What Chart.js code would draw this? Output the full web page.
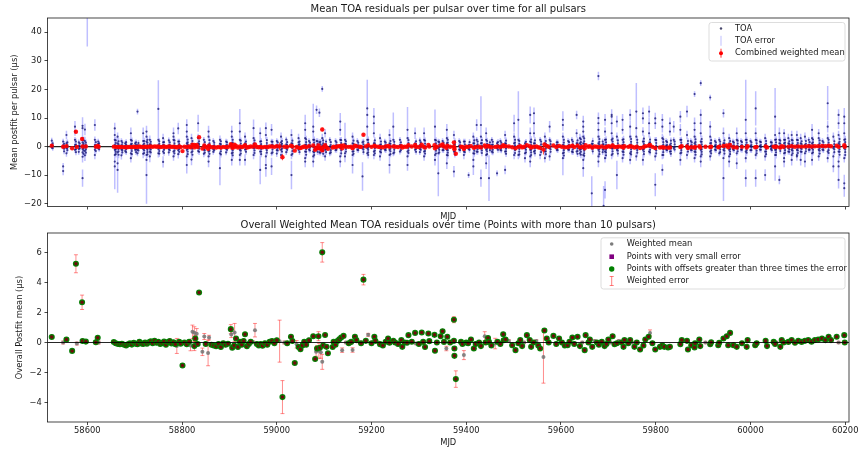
<!DOCTYPE html>
<html>
<head>
<meta charset="utf-8">
<script src="https://cdn.jsdelivr.net/npm/chart.js@4.4.0/dist/chart.umd.min.js"></script>
<style>
  body { margin: 0; background: #fff; }
  #wrap { position: relative; width: 860px; height: 450px; }
  canvas { position: absolute; left: 0; }
  #topChart { top: 0; }
  #bottomChart { top: 218px; }
</style>
</head>
<body>
<div id="wrap">
  <canvas id="topChart" width="860" height="224"></canvas>
  <canvas id="bottomChart" width="860" height="232"></canvas>
</div>
<script>
// axis ticks and limits
const xTicks = [58600, 58800, 59000, 59200, 59400, 59600, 59800, 60000, 60200];
const topYTicks = [-20, -10, 0, 10, 20, 30, 40];
const bottomYTicks = [-4, -2, 0, 2, 4, 6];
const xRange = [58516, 60208];
const topYRange = [-20.9, 45];
const bottomYRange = [-5.3, 7.3];

// TOA residuals per epoch: [MJD, residuals (us), errors (us)]
const toaEpochs = [
  [58525, [2.1, 0.6, -0.3, 0.4], [1, 0.8, 0.6, 0.5]],
  [58549, [1.8, -0.2, -6.9, -8.5, 0.5], [1, 0.8, 1.2, 1.5, 0.6]],
  [58556, [4.1, 1.2, -0.5, -2.3, 0.3], [1.5, 1, 0.8, 1.2, 0.6]],
  [58574, [7.0, 5.3, 2.4, 0.6, -1.1], [2, 1.5, 1, 0.8, 1]],
  [58582, [1.5, 0.3, -0.8, -1.8], [1, 0.7, 0.8, 1]],
  [58590, [7.3, 6.5, 3.0, 1.5, 0.4, -0.8, -2.0, -3.5, -11.0], [3, 2, 1.5, 1, 0.8, 1, 1.5, 2, 3]],
  [58595, [6.0, 2.0, 0.2, -1.5, -3.0], [2, 1.5, 1, 1.2, 2]],
  [58600, [50], [15]],
  [58616, [7.6, 2.4, 0.6, -1.1, -2.9], [2, 1.2, 0.8, 1, 1.5]],
  [58623, [1.8, 0.0, -0.5, 1.0], [1, 0.8, 0.8, 1]],
  [58658, [6.4, 4.1, 2.4, 0.6, -1.1, -2.9, -5.2, -6.9], [2, 1.5, 1, 0.8, 1, 1.5, 2, 8]],
  [58664, [3.5, 1.2, -0.4, -2.0, -8.1, -5.8], [1.5, 1, 0.8, 1, 8, 2]],
  [58672, [2.0, 0.5, -1.0, -3.0], [1, 0.8, 1, 1.5]],
  [58680, [1.2, -0.5, 0.3, -1.5], [1, 0.8, 0.6, 1]],
  [58692, [4.7, 2.4, -0.5, -2.3, -4.0, 0.8], [2, 1, 0.8, 1, 1.5, 0.6]],
  [58701, [1.2, -0.5, 0.4, -1.1], [1, 0.8, 0.6, 1]],
  [58706, [12.3, -1.1, -2.3, 0.5], [1, 1, 1, 0.6]],
  [58718, [4.7, 2.0, 0.6, -0.8, -2.5], [2, 1, 0.8, 1, 1.5]],
  [58725, [5.3, 3.5, 1.8, -0.5, -2.9, -4.6, -9.9], [2, 1.5, 1, 0.8, 1.5, 2, 10]],
  [58732, [2.4, 0.8, -0.6, -1.7, -3.4], [1.5, 1, 0.8, 1, 2]],
  [58750, [13.2, 2.4, -2.3, 0.5, -0.8], [10, 1, 1.5, 0.6, 0.8]],
  [58760, [3.0, 0.6, -1.7, -5.3, 1.5], [1.5, 0.8, 1, 2, 1]],
  [58772, [2.2, 0.4, -0.9, -2.0], [1, 0.7, 0.8, 1.2]],
  [58782, [4.7, 3.5, 2.4, 0.0, -1.7, -3.4], [2, 1.5, 1, 0.8, 1, 1.5]],
  [58792, [6.4, 1.8, 0.3, -1.2, -2.6], [2, 1, 0.8, 1, 1.5]],
  [58810, [7.6, 5.3, 3.5, 1.2, -1.1, -3.4, -6.4], [2, 2, 1.5, 1, 1, 1.5, 3]],
  [58820, [3.0, 1.0, -0.5, -2.0, -4.5], [1.5, 1, 0.8, 1, 2]],
  [58834, [8.2, 3.0, 1.2, -0.3, -1.5], [3, 1.5, 1, 0.8, 1]],
  [58846, [2.4, 0.5, -1.0, -2.5], [1, 0.8, 0.8, 1.2]],
  [58856, [5.3, 3.5, 0.6, -1.7, -3.4, -5.2], [2, 1.5, 0.8, 1, 1.5, 2]],
  [58866, [2.0, 0.2, -0.9, -1.8], [1, 0.7, 0.8, 1]],
  [58880, [2.4, 0.0, -2.3, -7.5, 1.0], [1.5, 0.8, 1, 6, 0.8]],
  [58893, [1.8, 0.4, -0.7, -2.0], [1, 0.7, 0.8, 1]],
  [58905, [5.3, 3.5, 1.2, -0.5, -2.3, -4.6], [2, 1.5, 1, 0.8, 1, 2]],
  [58922, [8.2, 5.3, 2.4, -1.1, -2.9, -4.6], [5, 2, 1, 1, 1.5, 2]],
  [58933, [3.5, 0.6, -4.6, 1.2, -1.0], [1.5, 0.8, 2, 0.8, 0.8]],
  [58951, [6.5, 3.0, -0.5, -2.9, 1.0], [3, 1.5, 0.8, 1.5, 0.8]],
  [58965, [4.7, 1.8, -1.7, -8.1, 0.3], [2, 1, 1, 5, 0.6]],
  [58977, [6.5, 4.1, -0.5, -3.4, -6.4, -7.5], [2, 1.5, 0.8, 1.5, 2, 3]],
  [58989, [5.9, 1.8, -2.3, -6.9, 0.5], [2, 1, 1, 3, 0.6]],
  [59000, [2.0, 0.3, -1.2, -2.4], [1, 0.7, 0.8, 1.2]],
  [59009, [3.5, 0.6, -1.1, -2.9, 1.5], [1.5, 0.8, 1, 1.5, 1]],
  [59020, [2.5, 0.8, -0.6, -1.9], [1, 0.8, 0.7, 1]],
  [59031, [4.1, 1.2, -2.9, -9.9, 0.2], [2, 1, 1.5, 5, 0.6]],
  [59046, [3.0, 0.6, -1.1, 1.5], [1.5, 0.8, 1, 1]],
  [59060, [8.2, 5.9, 3.0, 0.6, -1.7, -4.0, -5.2], [3, 2, 1.5, 0.8, 1, 2, 2]],
  [59068, [2.0, 0.4, -1.0], [1, 0.7, 0.9]],
  [59077, [7.0, 5.3, 2.4, 0.0, -1.7, -3.4, -5.2], [8, 2, 1.5, 0.8, 1, 1.5, 2]],
  [59084, [12.9, 2.0, -0.8], [1.5, 1, 0.8]],
  [59090, [11.9, 1.5, -0.5, -2.0], [1.5, 1, 0.8, 1]],
  [59096, [20.2, 3.0, 0.5, -1.5], [1, 1.5, 0.8, 1]],
  [59102, [4.7, 0.6, -1.1, -3.4], [1.5, 0.8, 1, 1.5]],
  [59112, [2.4, 0.0, -2.3], [1, 0.8, 1]],
  [59124, [2.0, 0.3, -1.2], [1, 0.7, 0.9]],
  [59134, [8.8, 5.9, 2.4, -0.5, -3.4, -5.2], [3, 2, 1, 0.8, 1.5, 2]],
  [59144, [2.4, 0.0, -2.3, -3.4, 1.0], [6, 1, 1, 2, 0.8]],
  [59160, [3.5, 1.2, -1.7, -2.9, -6.4], [1.5, 1, 1, 1.5, 3]],
  [59170, [2.0, 0.2, -1.1], [1, 0.7, 0.9]],
  [59181, [-10.4, 1.5, -0.6], [5, 1, 0.8]],
  [59191, [13.4, 11.1, 7.0, 2.4, -0.5, -2.3], [10, 3, 2, 1, 0.8, 1]],
  [59205, [10.5, 8.2, 4.7, 1.2, -1.7, -2.9], [3, 2, 1.5, 1, 1, 1.5]],
  [59218, [3.0, 0.6, -1.7, -3.4], [1.5, 0.8, 1, 1.5]],
  [59228, [1.8, 0.2, -1.0], [1, 0.7, 0.9]],
  [59238, [4.1, 1.2, -1.1, -2.9, -6.4], [2, 1, 1, 1.5, 3]],
  [59246, [7.0, 2.4, 0.0, -2.3], [5, 1, 0.8, 1]],
  [59260, [2.4, 0.6, -1.7], [1, 0.8, 1]],
  [59276, [5.9, 3.0, 0.0, -1.7, -3.4, -6.4], [8, 1.5, 0.8, 1, 1.5, 2]],
  [59292, [4.7, 1.2, -1.1, 0.3], [2, 1, 1, 0.6]],
  [59302, [2.2, 0.5, -0.8, -1.9], [1, 0.7, 0.8, 1]],
  [59311, [4.7, 2.4, 0.0, -1.7, -3.4], [2, 1, 0.8, 1, 1.5]],
  [59334, [7.0, 2.4, 0.0, -2.9, -4.6], [6, 1, 0.8, 1.5, 2]],
  [59341, [1.8, -0.5, -2.3, -9.3], [1, 0.8, 1, 8]],
  [59350, [2.0, 0.5, -1.2], [1, 0.7, 0.9]],
  [59359, [5.9, 3.0, 1.2, -1.1, -2.9, -5.8], [2, 1.5, 1, 1, 1.5, 2]],
  [59374, [4.1, 0.6, -1.7, -8.7], [1.5, 0.8, 1, 2]],
  [59385, [2.0, 0.3, -1.0], [1, 0.7, 0.9]],
  [59395, [1.8, -0.5, -1.7, -2.9], [1, 0.8, 1, 1.5]],
  [59405, [-9.9, 0.5, -0.8], [1, 0.7, 0.8]],
  [59415, [3.5, 1.2, -2.3, -4.6, -6.9], [1.5, 1, 1, 2, 3]],
  [59422, [7.6, 2.4, -1.7, 0.3], [2, 1, 1, 0.6]],
  [59431, [7.6, 3.5, -0.5, -11.0, 1.2], [10, 1.5, 0.8, 3, 1]],
  [59442, [4.7, 2.4, -1.1, -2.9, -5.8], [2, 1, 1, 1.5, 2]],
  [59448, [-11.0, 0.4], [8, 0.7]],
  [59454, [2.4, 0.6, -1.7], [1, 0.8, 1]],
  [59465, [-9.3, 1.2, -0.5], [1, 1, 0.8]],
  [59472, [2.0, 0.3, -1.1], [1, 0.7, 0.9]],
  [59482, [4.1, 1.2, -1.7, -8.1], [1.5, 1, 1, 1.5]],
  [59501, [8.2, 3.5, 1.2, -0.5, -2.9], [3, 1.5, 1, 0.8, 1.5]],
  [59510, [9.4, 2.4, 0.0, -2.9], [10, 1, 0.8, 1.5]],
  [59524, [1.2, -0.5, -2.3, -4.0], [1, 0.8, 1, 1.5]],
  [59535, [11.1, 4.7, 1.8, -1.1, -3.4, -5.2], [3, 2, 1, 1, 1.5, 2]],
  [59543, [11.7, 8.2, 4.7, 1.2, -1.7], [2, 2, 1.5, 1, 1]],
  [59556, [2.4, 0.0, -2.9], [1, 0.8, 1.5]],
  [59566, [3.5, 1.2, -1.7, -4.0], [1.5, 1, 1, 1.5]],
  [59576, [7.0, 2.4, -0.5, -3.4], [2, 1, 0.8, 1.5]],
  [59591, [0.6, -1.1, 1.5], [1, 0.8, 1]],
  [59604, [9.4, 7.6, 3.5, 0.6, -2.3, -4.0], [3, 2, 1.5, 0.8, 1, 6]],
  [59615, [2.0, 0.3, -1.0], [1, 0.7, 0.9]],
  [59623, [2.4, 0.0, -1.7], [1, 0.8, 1]],
  [59633, [11.1, 4.7, 1.2, -1.7], [1.5, 1.5, 1, 1]],
  [59640, [3.0, 1.2, -0.5, -1.1, -2.3], [1.5, 1, 0.8, 1, 1]],
  [59647, [8.8, 7.0, 5.3, 3.5, 1.2, -0.5, -2.9, -4.6, -7.5], [2, 2, 1.5, 1.5, 1, 0.8, 1.5, 2, 3]],
  [59665, [-16.3, 1.0, -0.5], [6, 1, 0.8]],
  [59679, [24.7, 10.0, 8.2, 5.9, 3.5, 1.2, -1.1, -3.4, -5.2], [1.5, 2, 2, 1.5, 1.5, 1, 1, 1.5, 2]],
  [59690, [-20.7, 0.8, -1.0], [7, 1, 0.8]],
  [59693, [9.4, 5.3, 2.4, -1.7, -4.0, -15.1], [2, 1.5, 1, 1, 1.5, 3]],
  [59707, [10.5, 11.1, 8.2, 4.7, 2.4, -0.5, -2.9], [2, 2, 2, 1.5, 1, 0.8, 1.5]],
  [59718, [8.8, 3.5, -1.1, -9.9], [2, 1.5, 1, 5]],
  [59730, [9.4, 5.9, 2.4, 0.6, -1.7, -4.0], [2, 1.5, 1, 0.8, 1, 1.5]],
  [59746, [11.1, 7.0, 3.5, 0.6, -2.3, -4.6], [2, 2, 1.5, 0.8, 1, 1.5]],
  [59759, [12.3, 6.5, 3.5, -0.5, -3.4], [10, 2, 1.5, 0.8, 1.5]],
  [59773, [11.7, 9.9, 5.3, 1.8, -1.1, -4.6], [2, 2, 1.5, 1, 1, 2]],
  [59786, [12.3, 8.2, 4.7, 1.2, -1.7], [2, 2, 1.5, 1, 1]],
  [59799, [9.9, 8.2, 2.4, -0.5, -3.4, -13.3], [2, 2, 1, 0.8, 1.5, 4]],
  [59814, [9.4, 7.0, 3.0, 0.0, -2.9, -8.1], [2, 2, 1.5, 0.8, 1.5, 2]],
  [59822, [2.0, 0.4, -1.0], [1, 0.7, 0.9]],
  [59830, [8.2, 5.3, 0.6, -1.7], [2, 1.5, 0.8, 1]],
  [59838, [7.0, 2.4, -0.5], [2, 1, 0.8]],
  [59852, [10.5, 5.9, 2.4, 0.0, -2.3, -4.6], [2, 2, 1, 0.8, 1, 2]],
  [59866, [12.3, 4.1, 0.6, -2.9], [2, 1.5, 0.8, 1.5]],
  [59874, [2.0, 0.3, -1.1], [1, 0.7, 0.9]],
  [59882, [18.4, 8.2, 5.9, 3.5, 1.2, -1.7, -4.0], [1, 2, 1.5, 1.5, 1, 1, 1.5]],
  [59895, [22.2, 11.1, 8.2, 4.7, 1.8, -1.1, -3.4, -5.2], [1, 2, 2, 1.5, 1, 1, 1.5, 2]],
  [59915, [17.2, 7.0, 3.5, 1.2, -1.7, -3.4], [1, 2, 1.5, 1, 1, 1.5]],
  [59925, [2.0, 0.4, -1.0], [1, 0.7, 0.9]],
  [59934, [2.4, 0.0, -2.3], [1, 0.8, 1]],
  [59943, [11.7, 4.7, 1.2, -1.1, -4.0, -11.0], [1.5, 2, 1, 1, 1.5, 8]],
  [59955, [3.0, 1.2, -1.1, -3.4, -5.2], [1.5, 1, 1, 1.5, 2]],
  [59963, [1.8, 0.2, -0.9], [1, 0.7, 0.9]],
  [59971, [4.7, 2.4, 0.0, -2.3, -5.8], [2, 1, 0.8, 1, 2]],
  [59980, [2.0, 0.3, -1.0], [1, 0.7, 0.9]],
  [59990, [9.4, 4.7, 2.4, 0.6, -1.7, -4.0, -11.0], [14, 2, 1, 0.8, 1, 1.5, 3]],
  [60000, [2.0, 0.3, -1.2], [1, 0.7, 0.9]],
  [60011, [13.4, 4.7, 2.4, -0.5, -2.9, -11.0], [6, 2, 1, 0.8, 1.5, 3]],
  [60020, [1.8, 0.3, -1.0], [1, 0.7, 0.9]],
  [60031, [3.0, 0.6, -1.7, -3.4, -9.9], [1.5, 0.8, 1, 1.5, 2]],
  [60043, [1.6, 0.2, -0.8], [1, 0.7, 0.9]],
  [60052, [10.5, 4.1, 2.4, 0.6, -1.1, -2.9, -6.9], [10, 1.5, 1, 0.8, 1, 1.5, 5]],
  [60061, [-11.6, 4.7, 2.4, 1.2, -0.5], [1.5, 2, 1, 1, 0.8]],
  [60071, [4.7, 2.4, 1.2, -0.5, -2.3, -4.0, -5.2], [1.5, 1, 1, 0.8, 1, 1.5, 2]],
  [60080, [3.0, 1.2, -0.5, -1.7], [1.5, 1, 0.8, 1]],
  [60087, [4.1, 2.4, 0.6, -1.1, -2.9, -4.6], [1.5, 1, 0.8, 1, 1.5, 2]],
  [60098, [4.1, 2.4, 0.6, -1.1, -2.9, -3.4], [1.5, 1, 0.8, 1, 1.5, 1.5]],
  [60106, [3.0, 1.2, -0.5, -1.7, -4.6], [1.5, 1, 0.8, 1, 2]],
  [60115, [3.5, 0.6, -2.3, -5.2], [1.5, 0.8, 1, 2]],
  [60123, [2.4, 0.6, -1.1], [1, 0.8, 1]],
  [60130, [5.9, 3.0, 1.2, -0.5, -2.3, -4.6], [2, 1.5, 1, 0.8, 1, 2]],
  [60144, [4.7, 3.0, 0.6, -1.1, -3.4], [1.5, 1.5, 0.8, 1, 1.5]],
  [60152, [2.0, 0.4, -1.0], [1, 0.7, 0.9]],
  [60163, [15.2, 7.0, 3.0, 0.6, -1.7, -4.0], [6, 2, 1.5, 0.8, 1, 1.5]],
  [60175, [3.5, -0.5, -3.4, -6.9], [1.5, 0.8, 1.5, 2]],
  [60186, [11.1, 8.2, 4.1, 1.2, -1.7, -5.2, -6.9, -11.6], [2, 2, 1.5, 1, 1, 2, 2, 3]],
  [60198, [10.5, 8.2, 4.7, 2.4, -0.5, -4.0, -12.8, -14.5], [3, 2, 1.5, 1, 0.8, 1.5, 3, 3]]
];

// densely packed TOAs close to zero next to each epoch: [MJD, residuals (us), common error (us)]
const toaCore = [
  [58527, [1.2, 0.4, -0.5], 0.9], [58551, [1.0, 0.2, -0.7, -1.6], 1.0], [58558, [1.5, 0.5, -0.4, -1.2], 1.0],
  [58576, [1.8, 0.7, -0.2, -0.9, -1.9], 1.1], [58584, [1.1, 0.2, -0.6], 0.9], [58592, [2.3, 1.2, 0.6, -0.1, -0.5, -1.3, -2.5], 1.2],
  [58597, [1.4, 0.6, -0.3, -1.0, -2.1], 1.1], [58618, [1.6, 0.5, -0.4, -1.5], 1.0], [58625, [1.2, 0.3, -0.9], 0.9],
  [58660, [2.2, 1.3, 0.4, -0.3, -1.0, -1.8, -2.6], 1.2], [58666, [1.9, 0.8, 0.0, -0.8, -1.6, -2.8], 1.2], [58674, [1.4, 0.5, -0.3, -1.2, -2.0], 1.0],
  [58682, [1.6, 0.7, -0.1, -0.9, -1.9], 1.0], [58694, [2.1, 1.0, 0.2, -0.7, -1.5, -2.6], 1.1], [58703, [1.5, 0.6, -0.2, -1.0, -1.9], 1.0],
  [58708, [1.3, 0.4, -0.4, -1.3], 1.0], [58720, [2.0, 1.1, 0.3, -0.5, -1.3, -2.2], 1.1], [58727, [2.4, 1.4, 0.6, -0.2, -1.1, -1.9, -2.7], 1.2],
  [58734, [1.7, 0.8, -0.1, -1.0, -2.0], 1.0], [58752, [1.9, 1.0, 0.2, -0.6, -1.5, -2.4], 1.1], [58762, [1.6, 0.5, -0.3, -1.1, -2.2], 1.0],
  [58774, [1.5, 0.6, -0.2, -1.2], 1.0], [58784, [2.2, 1.2, 0.4, -0.5, -1.4, -2.3], 1.1], [58794, [1.8, 0.9, 0.0, -0.8, -1.8], 1.0],
  [58812, [2.5, 1.5, 0.7, -0.1, -0.8, -1.7, -2.6], 1.2], [58822, [2.0, 1.0, 0.2, -0.7, -1.6, -2.8], 1.1], [58836, [1.9, 0.9, 0.1, -0.7, -1.8], 1.1],
  [58848, [1.6, 0.6, -0.3, -1.2, -2.1], 1.0], [58858, [2.3, 1.2, 0.3, -0.6, -1.4, -2.5], 1.1], [58868, [1.4, 0.5, -0.3, -1.2], 1.0],
  [58882, [1.9, 0.9, 0.1, -0.7, -1.6, -2.7], 1.1], [58895, [1.5, 0.6, -0.2, -1.1], 1.0], [58907, [2.4, 1.4, 0.5, -0.3, -1.2, -2.1, -3.0], 1.2],
  [58924, [2.1, 1.1, 0.3, -0.5, -1.4, -2.4], 1.1], [58935, [1.8, 0.8, 0.0, -0.9, -1.8], 1.0], [58953, [2.2, 1.2, 0.4, -0.4, -1.3, -2.2], 1.1],
  [58967, [1.9, 0.9, 0.1, -0.8, -1.7, -2.6], 1.1], [58979, [2.3, 1.3, 0.5, -0.3, -1.2, -2.1], 1.1], [58991, [1.7, 0.7, -0.1, -1.0, -2.0], 1.0],
  [59002, [1.5, 0.5, -0.4, -1.3], 1.0], [59011, [2.0, 1.0, 0.2, -0.7, -1.7], 1.1], [59022, [1.6, 0.6, -0.2, -1.1], 1.0],
  [59033, [2.1, 1.1, 0.2, -0.6, -1.5, -2.5], 1.1], [59048, [1.8, 0.8, 0.0, -0.9, -1.9], 1.0], [59062, [2.6, 1.6, 0.7, -0.1, -0.9, -1.8, -2.8], 1.2],
  [59070, [1.4, 0.5, -0.4, -1.3], 1.0], [59079, [2.4, 1.4, 0.6, -0.2, -1.1, -2.0, -2.9], 1.2], [59086, [1.9, 0.9, 0.0, -0.9, -1.8], 1.1],
  [59092, [1.7, 0.8, -0.1, -1.0, -2.1], 1.0], [59098, [2.2, 1.2, 0.3, -0.6, -1.5, -2.5], 1.1], [59104, [1.8, 0.8, 0.0, -0.9, -1.9], 1.0],
  [59114, [1.6, 0.6, -0.3, -1.2, -2.0], 1.0], [59126, [1.5, 0.6, -0.3, -1.1], 1.0], [59136, [2.3, 1.3, 0.4, -0.4, -1.3, -2.3], 1.1],
  [59146, [1.9, 0.9, 0.1, -0.8, -1.7], 1.0], [59162, [2.1, 1.0, 0.2, -0.6, -1.6, -2.5], 1.1], [59172, [1.4, 0.5, -0.4, -1.2], 1.0],
  [59183, [1.8, 0.8, -0.1, -1.0, -1.9], 1.0], [59193, [2.4, 1.4, 0.5, -0.3, -1.1, -2.0, -2.9], 1.2], [59207, [2.2, 1.2, 0.3, -0.5, -1.4, -2.3], 1.1],
  [59220, [1.8, 0.8, -0.1, -1.0, -2.0], 1.0], [59230, [1.4, 0.5, -0.4, -1.2], 1.0], [59240, [2.0, 1.0, 0.2, -0.7, -1.6, -2.6], 1.1],
  [59248, [1.7, 0.7, -0.2, -1.1, -2.0], 1.0], [59262, [1.5, 0.6, -0.3, -1.2], 1.0], [59278, [2.3, 1.3, 0.4, -0.4, -1.3, -2.2], 1.1],
  [59294, [1.9, 0.9, 0.0, -0.8, -1.8], 1.0], [59304, [1.5, 0.6, -0.3, -1.1], 1.0], [59313, [2.1, 1.1, 0.2, -0.6, -1.5, -2.4], 1.1],
  [59336, [2.2, 1.2, 0.3, -0.5, -1.4, -2.4], 1.1], [59343, [1.6, 0.7, -0.2, -1.1, -2.0], 1.0], [59352, [1.4, 0.5, -0.3, -1.2], 1.0],
  [59361, [2.4, 1.4, 0.5, -0.3, -1.2, -2.1, -3.0], 1.2], [59376, [1.9, 0.9, 0.0, -0.9, -1.8, -2.7], 1.1], [59387, [1.5, 0.5, -0.4, -1.2], 1.0],
  [59397, [1.8, 0.8, -0.1, -1.0, -1.9], 1.0], [59407, [1.6, 0.6, -0.3, -1.1], 1.0], [59417, [2.2, 1.2, 0.3, -0.5, -1.4, -2.4], 1.1],
  [59424, [1.8, 0.8, 0.0, -0.9, -1.8], 1.0], [59433, [2.3, 1.3, 0.4, -0.4, -1.3, -2.2], 1.1], [59444, [2.0, 1.0, 0.1, -0.7, -1.6, -2.6], 1.1],
  [59450, [1.5, 0.6, -0.3, -1.2], 1.0], [59456, [1.7, 0.7, -0.2, -1.1, -2.0], 1.0], [59467, [1.6, 0.6, -0.2, -1.1], 1.0],
  [59474, [1.4, 0.5, -0.4, -1.3], 1.0], [59484, [2.1, 1.1, 0.2, -0.7, -1.6, -2.5], 1.1], [59503, [2.4, 1.4, 0.5, -0.3, -1.2, -2.2], 1.2],
  [59512, [2.0, 1.0, 0.1, -0.8, -1.7, -2.7], 1.1], [59526, [1.7, 0.7, -0.2, -1.1, -2.0], 1.0], [59537, [2.5, 1.5, 0.6, -0.2, -1.1, -2.0, -2.9], 1.2],
  [59545, [2.2, 1.2, 0.3, -0.5, -1.4, -2.3], 1.1], [59558, [1.8, 0.8, -0.1, -1.0, -1.9], 1.0], [59568, [2.0, 1.0, 0.2, -0.7, -1.6, -2.6], 1.1],
  [59578, [1.9, 0.9, 0.0, -0.9, -1.8], 1.0], [59593, [1.5, 0.6, -0.3, -1.2], 1.0], [59606, [2.4, 1.4, 0.5, -0.3, -1.2, -2.1, -3.1], 1.2],
  [59617, [1.6, 0.6, -0.2, -1.1], 1.0], [59625, [1.8, 0.8, -0.1, -1.0, -1.9], 1.0], [59635, [2.2, 1.2, 0.3, -0.6, -1.5, -2.5], 1.1],
  [59642, [2.6, 1.6, 0.7, -0.1, -0.9, -1.8, -2.8], 1.2], [59649, [2.9, 1.9, 1.0, 0.2, -0.6, -1.4, -2.3, -3.2], 1.3], [59667, [2.0, 1.0, 0.1, -0.7, -1.6], 1.1],
  [59681, [2.7, 1.7, 0.8, 0.0, -0.8, -1.7, -2.6], 1.2], [59688, [1.8, 0.8, -0.1, -1.0, -1.9], 1.0], [59695, [2.5, 1.5, 0.6, -0.2, -1.1, -2.0, -3.0], 1.2],
  [59709, [2.8, 1.8, 0.9, 0.1, -0.7, -1.6, -2.5], 1.2], [59720, [2.2, 1.2, 0.3, -0.5, -1.4, -2.4], 1.1], [59732, [2.6, 1.6, 0.7, -0.1, -1.0, -1.9, -2.8], 1.2],
  [59748, [2.7, 1.7, 0.8, 0.0, -0.9, -1.8, -2.7], 1.2], [59761, [2.4, 1.4, 0.5, -0.3, -1.2, -2.1], 1.1], [59775, [2.8, 1.8, 0.9, 0.1, -0.8, -1.7, -2.6], 1.2],
  [59788, [2.5, 1.5, 0.6, -0.2, -1.1, -2.0], 1.1], [59801, [2.3, 1.3, 0.4, -0.4, -1.3, -2.3], 1.1], [59816, [2.6, 1.6, 0.7, -0.1, -1.0, -1.9, -2.9], 1.2],
  [59824, [1.6, 0.6, -0.3, -1.2], 1.0], [59832, [2.1, 1.1, 0.2, -0.6, -1.6, -2.5], 1.1], [59840, [1.8, 0.8, -0.1, -1.0], 1.0],
  [59854, [2.4, 1.4, 0.5, -0.3, -1.2, -2.1], 1.1], [59868, [2.0, 1.0, 0.1, -0.8, -1.7], 1.0], [59876, [1.5, 0.6, -0.3, -1.2], 1.0],
  [59884, [2.6, 1.6, 0.7, -0.1, -1.0, -1.9, -2.8], 1.2], [59897, [2.7, 1.7, 0.8, 0.0, -0.9, -1.8, -2.7], 1.2], [59917, [2.3, 1.3, 0.4, -0.4, -1.3, -2.3], 1.1],
  [59927, [1.5, 0.6, -0.3, -1.2], 1.0], [59936, [1.8, 0.8, -0.1, -1.0, -1.9], 1.0], [59945, [2.2, 1.2, 0.3, -0.5, -1.4, -2.4], 1.1],
  [59957, [2.0, 1.0, 0.1, -0.8, -1.7, -2.6], 1.1], [59965, [1.4, 0.5, -0.4, -1.2], 1.0], [59973, [2.1, 1.1, 0.2, -0.7, -1.6], 1.1],
  [59982, [1.6, 0.6, -0.3, -1.1], 1.0], [59992, [2.4, 1.4, 0.5, -0.3, -1.2, -2.1], 1.1], [60002, [1.5, 0.6, -0.3, -1.2], 1.0],
  [60013, [2.2, 1.2, 0.3, -0.5, -1.4, -2.3], 1.1], [60022, [1.6, 0.6, -0.2, -1.1], 1.0], [60033, [2.0, 1.0, 0.1, -0.8, -1.7, -2.6], 1.1],
  [60045, [1.4, 0.5, -0.4, -1.2], 1.0], [60054, [2.5, 1.5, 0.6, -0.2, -1.1, -2.0, -2.9], 1.2], [60063, [2.1, 1.1, 0.2, -0.6, -1.5], 1.1],
  [60073, [2.4, 1.4, 0.5, -0.3, -1.2, -2.1], 1.1], [60082, [1.9, 0.9, 0.0, -0.9, -1.8], 1.0], [60089, [2.2, 1.2, 0.3, -0.5, -1.4, -2.3], 1.1],
  [60100, [2.3, 1.3, 0.4, -0.4, -1.3, -2.2], 1.1], [60108, [1.9, 0.9, 0.0, -0.8, -1.8], 1.0], [60117, [2.0, 1.0, 0.1, -0.7, -1.6], 1.0],
  [60125, [1.6, 0.6, -0.3, -1.1], 1.0], [60132, [2.5, 1.5, 0.6, -0.2, -1.1, -2.0], 1.1], [60146, [2.2, 1.2, 0.3, -0.5, -1.4, -2.4], 1.1],
  [60154, [1.5, 0.6, -0.3, -1.2], 1.0], [60165, [2.4, 1.4, 0.5, -0.3, -1.2, -2.2], 1.1], [60177, [1.9, 0.9, 0.0, -0.9, -1.9], 1.0],
  [60188, [2.7, 1.7, 0.8, 0.0, -0.9, -1.8, -2.8], 1.2], [60200, [2.6, 1.6, 0.7, -0.1, -1.0, -1.9, -2.9], 1.2]
];

// overall weighted means: [MJD, mean (us), error (us), offset > 3 sigma]
const meanRows = [
  [58525, 0.37, 0.10, 1], [58549, 0.00, 0.10, 0], [58556, 0.20, 0.10, 1], [58568, -0.56, 0.10, 1],
  [58576, 5.25, 0.60, 1], [58578, -0.07, 0.10, 0], [58589, 2.68, 0.48, 1], [58590, 0.10, 0.08, 1],
  [58597, 0.06, 0.08, 1], [58618, 0.02, 0.08, 1], [58622, 0.31, 0.10, 1], [58624, 0.00, 0.10, 0],
  [58656, 0.03, 0.06, 1], [58660, -0.05, 0.06, 1], [58665, -0.10, 0.06, 1], [58669, -0.12, 0.06, 1],
  [58673, -0.08, 0.06, 1], [58678, -0.15, 0.06, 1], [58682, -0.20, 0.06, 1], [58686, -0.12, 0.06, 1],
  [58690, -0.06, 0.06, 1], [58694, -0.14, 0.06, 1], [58698, -0.02, 0.06, 1], [58702, -0.08, 0.06, 1],
  [58706, -0.12, 0.06, 1], [58710, 0.05, 0.06, 1], [58714, -0.06, 0.06, 1], [58718, -0.10, 0.06, 1],
  [58722, 0.00, 0.06, 1], [58726, -0.08, 0.06, 1], [58730, 0.02, 0.06, 1], [58734, 0.08, 0.06, 1],
  [58738, -0.05, 0.06, 1], [58742, 0.12, 0.06, 1], [58746, -0.02, 0.06, 1], [58750, 0.05, 0.06, 1],
  [58754, -0.10, 0.06, 1], [58758, -0.04, 0.06, 1], [58762, 0.06, 0.06, 1], [58766, -0.15, 0.06, 1],
  [58770, 0.03, 0.06, 1], [58774, 0.10, 0.06, 1], [58778, -0.06, 0.06, 1], [58782, 0.02, 0.06, 1],
  [58786, -0.12, 0.06, 1], [58789, -0.23, 0.50, 0], [58794, 0.05, 0.06, 1], [58797, -0.08, 0.06, 1],
  [58801, -1.53, 0.10, 1], [58805, 0.00, 0.08, 1], [58810, -0.12, 0.08, 1], [58815, 0.05, 0.08, 1],
  [58818, -0.20, 0.35, 0], [58822, 0.71, 0.45, 0], [58826, 0.65, 0.40, 0], [58826, -0.24, 0.30, 1],
  [58828, 0.27, 0.20, 1], [58831, 0.58, 0.35, 0], [58833, -0.10, 0.10, 1], [58836, 3.33, 0.10, 1],
  [58843, -0.62, 0.25, 0], [58847, 0.40, 0.20, 0], [58850, -0.10, 0.10, 1], [58855, -0.70, 0.85, 0],
  [58857, 0.33, 0.15, 0], [58862, -0.15, 0.08, 1], [58867, -0.20, 0.08, 1], [58872, -0.25, 0.08, 1],
  [58877, -0.10, 0.08, 1], [58882, -0.30, 0.08, 1], [58887, -0.05, 0.08, 1], [58892, -0.15, 0.08, 1],
  [58897, -0.08, 0.08, 1], [58903, 0.89, 0.30, 1], [58904, 0.53, 0.20, 0], [58906, -0.35, 0.10, 1],
  [58910, -0.20, 0.08, 1], [58911, 0.67, 0.60, 0], [58914, 0.27, 0.10, 1], [58918, -0.30, 0.08, 1],
  [58922, 0.05, 0.08, 1], [58926, -0.15, 0.08, 1], [58930, 0.10, 0.08, 1], [58933, 0.55, 0.10, 1],
  [58937, -0.25, 0.08, 1], [58941, -0.10, 0.08, 1], [58945, 0.05, 0.08, 1], [58950, 0.02, 0.08, 0],
  [58954, 0.82, 0.45, 0], [58958, -0.10, 0.08, 1], [58962, -0.20, 0.08, 1], [58966, -0.10, 0.08, 1],
  [58970, -0.22, 0.08, 1], [58975, -0.05, 0.08, 1], [58980, -0.15, 0.08, 1], [58985, 0.05, 0.08, 1],
  [58990, 0.10, 0.08, 1], [58995, -0.05, 0.08, 1], [59000, 0.15, 0.08, 1], [59006, 0.09, 1.40, 0],
  [59012, -3.64, 1.10, 1], [59016, 0.00, 0.10, 0], [59022, -0.05, 0.08, 1], [59030, 0.38, 0.10, 1],
  [59033, 0.10, 0.08, 1], [59038, -1.37, 0.10, 1], [59042, -0.12, 0.25, 0], [59046, -0.30, 0.10, 1],
  [59050, -0.45, 0.10, 1], [59054, -0.20, 0.10, 1], [59058, 0.05, 0.08, 1], [59062, -0.15, 0.08, 1],
  [59068, 0.15, 0.08, 1], [59077, 0.42, 0.10, 1], [59081, -1.10, 0.10, 1], [59083, -0.62, 0.30, 0],
  [59085, -0.40, 0.20, 1], [59088, 0.42, 0.30, 1], [59089, -0.55, 0.50, 0], [59091, -0.35, 0.10, 1],
  [59093, -0.65, 0.40, 0], [59096, 6.01, 0.65, 1], [59096, -1.29, 0.50, 0], [59098, -0.20, 0.10, 1],
  [59102, 0.50, 0.10, 1], [59105, -0.29, 0.10, 1], [59108, -0.72, 0.10, 1], [59118, -0.30, 0.08, 1],
  [59120, 0.04, 0.08, 1], [59124, -0.15, 0.08, 1], [59128, 0.10, 0.08, 1], [59132, 0.22, 0.08, 1],
  [59136, 0.33, 0.08, 1], [59138, -0.51, 0.15, 0], [59141, 0.44, 0.08, 1], [59146, 0.00, 0.08, 0],
  [59152, -0.05, 0.08, 1], [59157, 0.04, 0.08, 1], [59160, -0.50, 0.15, 0], [59165, 0.38, 0.08, 1],
  [59168, 0.16, 0.08, 1], [59175, 0.00, 0.08, 0], [59178, -0.05, 0.08, 1], [59183, 4.19, 0.35, 1],
  [59188, 0.11, 0.08, 1], [59193, 0.51, 0.10, 0], [59200, -0.05, 0.08, 1], [59206, 0.38, 0.08, 1],
  [59208, 0.11, 0.08, 1], [59214, 0.00, 0.08, 0], [59218, -0.11, 0.08, 1], [59224, -0.20, 0.08, 1],
  [59230, 0.05, 0.08, 1], [59235, 0.27, 0.08, 1], [59238, -0.02, 0.08, 1], [59246, 0.11, 0.08, 1],
  [59250, 0.00, 0.08, 1], [59256, -0.10, 0.08, 1], [59263, 0.16, 0.08, 1], [59265, -0.29, 0.08, 1],
  [59270, 0.00, 0.08, 1], [59275, -0.02, 0.08, 1], [59278, 0.49, 0.08, 1], [59285, 0.05, 0.08, 1],
  [59292, 0.64, 0.08, 1], [59294, -0.07, 0.08, 0], [59300, -0.10, 0.08, 1], [59306, 0.67, 0.08, 1],
  [59309, 0.04, 0.08, 1], [59313, -0.30, 0.08, 1], [59320, 0.60, 0.08, 1], [59322, 0.09, 0.08, 1],
  [59333, 0.51, 0.08, 1], [59334, -0.55, 0.08, 1], [59338, 0.00, 0.08, 1], [59346, 0.42, 0.08, 1],
  [59350, 0.75, 0.08, 1], [59353, 0.04, 0.08, 1], [59358, -0.40, 0.15, 0], [59360, 0.38, 0.08, 1],
  [59366, 0.00, 0.08, 1], [59374, 1.52, 0.20, 1], [59374, 0.11, 0.08, 1], [59375, -0.40, 0.08, 1],
  [59375, -0.89, 0.08, 1], [59378, -2.44, 0.55, 1], [59389, 0.04, 0.08, 1], [59392, -0.10, 0.08, 1],
  [59395, -0.84, 0.30, 0], [59400, 0.00, 0.08, 1], [59404, -0.05, 0.08, 1], [59410, 0.20, 0.08, 1],
  [59416, -0.40, 0.08, 1], [59420, -0.10, 0.08, 1], [59427, 0.00, 0.08, 1], [59431, -0.24, 0.08, 1],
  [59439, 0.42, 0.30, 0], [59441, 0.00, 0.08, 1], [59446, 0.30, 0.08, 1], [59448, 0.04, 0.08, 1],
  [59453, -0.20, 0.08, 1], [59461, -0.07, 0.35, 0], [59466, 0.05, 0.08, 1], [59472, -0.10, 0.08, 1],
  [59478, 0.55, 0.08, 1], [59479, 0.15, 0.08, 1], [59483, 0.20, 0.08, 1], [59490, 0.10, 0.08, 0],
  [59497, -0.18, 0.08, 1], [59504, -0.51, 0.08, 1], [59510, -0.05, 0.08, 1], [59514, 0.16, 0.08, 1],
  [59518, -0.24, 0.08, 1], [59522, 0.00, 0.08, 0], [59528, 0.49, 0.08, 1], [59534, 0.16, 0.08, 1],
  [59537, -0.29, 0.08, 1], [59542, 0.00, 0.08, 1], [59548, 0.10, 0.08, 0], [59552, -0.20, 0.08, 1],
  [59556, -0.40, 0.08, 1], [59563, -0.96, 1.75, 0], [59565, 0.80, 0.08, 1], [59570, 0.27, 0.08, 1],
  [59574, 0.00, 0.08, 1], [59584, 0.44, 0.08, 1], [59590, -0.10, 0.08, 1], [59596, 0.27, 0.08, 1],
  [59602, 0.00, 0.08, 1], [59608, -0.20, 0.08, 1], [59614, -0.18, 0.08, 1], [59618, 0.05, 0.08, 1],
  [59624, 0.33, 0.08, 1], [59628, -0.10, 0.08, 1], [59635, 0.38, 0.08, 1], [59640, -0.24, 0.08, 1],
  [59645, 0.00, 0.08, 0], [59650, -0.51, 0.08, 1], [59652, 0.49, 0.08, 1], [59658, 0.00, 0.08, 1],
  [59661, 0.20, 0.08, 1], [59666, -0.29, 0.08, 1], [59671, 0.10, 0.08, 0], [59676, 0.00, 0.08, 1],
  [59680, -0.15, 0.08, 1], [59686, 0.05, 0.08, 1], [59692, -0.24, 0.08, 1], [59696, -0.10, 0.08, 1],
  [59700, 0.20, 0.08, 1], [59704, 0.00, 0.08, 0], [59709, 0.42, 0.08, 1], [59713, -0.12, 0.08, 1],
  [59718, -0.05, 0.08, 1], [59722, 0.10, 0.08, 0], [59728, 0.00, 0.08, 1], [59732, -0.29, 0.08, 1],
  [59734, 0.16, 0.08, 1], [59742, -0.05, 0.08, 1], [59746, 0.16, 0.08, 1], [59750, 0.00, 0.08, 0],
  [59755, -0.29, 0.08, 1], [59760, 0.00, 0.08, 1], [59767, -0.47, 0.08, 1], [59774, -0.20, 0.08, 1],
  [59778, 0.20, 0.08, 1], [59785, 0.38, 0.08, 1], [59788, 0.64, 0.20, 0], [59793, -0.05, 0.08, 1],
  [59799, -0.47, 0.08, 1], [59809, -0.29, 0.08, 1], [59814, -0.20, 0.08, 1], [59818, -0.29, 0.08, 1],
  [59826, -0.33, 0.08, 1], [59830, -0.29, 0.08, 1], [59852, -0.11, 0.08, 1], [59855, 0.16, 0.08, 1],
  [59866, 0.11, 0.08, 1], [59868, -0.47, 0.08, 1], [59875, -0.18, 0.08, 1], [59882, -0.33, 0.08, 1],
  [59883, -0.05, 0.08, 1], [59892, 0.20, 0.08, 1], [59894, -0.24, 0.08, 1], [59905, 0.00, 0.08, 0],
  [59915, -0.11, 0.08, 1], [59917, 0.02, 0.08, 1], [59932, -0.18, 0.08, 1], [59934, -0.02, 0.08, 1],
  [59943, 0.27, 0.08, 1], [59950, 0.42, 0.08, 1], [59953, -0.18, 0.08, 1], [59957, 0.64, 0.08, 1],
  [59964, -0.18, 0.08, 1], [59971, -0.29, 0.08, 1], [59982, -0.05, 0.08, 1], [59992, -0.29, 0.08, 1],
  [59994, 0.16, 0.08, 1], [60010, -0.18, 0.08, 1], [60013, -0.05, 0.08, 1], [60032, 0.11, 0.08, 1],
  [60035, -0.24, 0.08, 1], [60049, 0.04, 0.08, 1], [60052, -0.10, 0.08, 1], [60055, 0.00, 0.08, 0],
  [60063, -0.29, 0.08, 1], [60066, 0.16, 0.08, 1], [60070, 0.00, 0.08, 1], [60080, 0.04, 0.08, 1],
  [60087, 0.16, 0.08, 1], [60094, -0.02, 0.08, 1], [60101, 0.11, 0.08, 1], [60108, 0.04, 0.08, 1],
  [60115, 0.11, 0.08, 1], [60122, 0.16, 0.08, 1], [60129, 0.05, 0.08, 1], [60136, 0.16, 0.08, 1],
  [60143, 0.20, 0.08, 1], [60151, 0.27, 0.08, 1], [60158, 0.16, 0.08, 1], [60165, 0.38, 0.08, 1],
  [60170, 0.16, 0.08, 1], [60182, 0.38, 0.08, 1], [60186, 0.00, 0.08, 0], [60198, 0.49, 0.08, 1],
  [60199, 0.00, 0.08, 1]
];

const FONT = '"DejaVu Sans", sans-serif';
const INK = '#1a1a1a';
const LBL_TOA = 'TOA';
const LBL_TOA_ERR = 'TOA error';
const LBL_COMBINED = 'Combined weighted mean';
const LBL_MEAN = 'Weighted mean';
const LBL_SMALL = 'Points with very small error';
const LBL_OFFSET = 'Points with offsets greater than three times the error';
const LBL_WERR = 'Weighted error';

// build point lists for the library
const toaPoints = [];
const toaErrLine = [];
function addToa(m, r, e) {
  toaPoints.push({ x: m, y: r });
  toaErrLine.push({ x: m, y: r - e }, { x: m, y: r + e }, { x: m, y: null });
}
toaEpochs.forEach(([m, res, err]) => res.forEach((r, i) => addToa(m, r, err[i])));
toaCore.forEach(([m, res, e]) => res.forEach(r => addToa(m, r, e)));

const meanPoints = meanRows.map(r => ({ x: r[0], y: r[1] }));
const offsetPoints = meanRows.filter(r => r[3]).map(r => ({ x: r[0], y: r[1] }));
const meanErrLine = [];
const meanCaps = [];
meanRows.forEach(([m, v, e]) => {
  meanErrLine.push({ x: m, y: v - e }, { x: m, y: v + e }, { x: m, y: null });
  meanCaps.push({ x: m, y: v - e }, { x: m, y: v + e });
});

const fmtNum = v => (v < 0 ? '\u2212' + Math.abs(v) : String(v));

function xScale(showLabels, height, titlePad) {
  return {
    type: 'linear', min: xRange[0], max: xRange[1],
    afterBuildTicks: s => { s.ticks = xTicks.map(v => ({ value: v })); },
    afterFit: s => { s.height = height; },
    grid: { drawOnChartArea: false, drawTicks: true, tickLength: 3, color: INK, lineWidth: 0.8 },
    border: { display: false },
    ticks: { display: showLabels, font: { family: FONT, size: 8.33 }, color: INK, padding: 0.5,
             maxRotation: 0, autoSkip: false, callback: v => String(v) },
    title: { display: true, text: 'MJD', font: { family: FONT, size: 8.33 }, color: INK,
             padding: { top: 0, bottom: titlePad } }
  };
}

function yScale(range, ticks, label, titlePad) {
  return {
    type: 'linear', min: range[0], max: range[1],
    afterBuildTicks: s => { s.ticks = ticks.map(v => ({ value: v })); },
    afterFit: s => { s.width = 47.5; },
    grid: { drawOnChartArea: false, drawTicks: true, tickLength: 3, color: INK, lineWidth: 0.8 },
    border: { display: false },
    ticks: { font: { family: FONT, size: 8.33 }, color: INK, padding: 2.8, autoSkip: false, callback: fmtNum },
    title: { display: true, text: label, font: { family: FONT, size: 8.33 }, color: INK,
             padding: { top: titlePad, bottom: 0 } }
  };
}

// legend markers
function drawMarker(ctx, kind, x, y) {
  ctx.save();
  if (kind === 'toa') {
    ctx.fillStyle = 'rgba(25,25,70,0.8)';
    ctx.beginPath(); ctx.arc(x, y, 1.2, 0, Math.PI * 2); ctx.fill();
  } else if (kind === 'toaErr') {
    ctx.strokeStyle = 'rgba(0,0,255,0.25)'; ctx.lineWidth = 1;
    ctx.beginPath(); ctx.moveTo(x, y - 5); ctx.lineTo(x, y + 5); ctx.stroke();
  } else if (kind === 'combined') {
    ctx.strokeStyle = 'rgba(255,0,0,0.8)'; ctx.lineWidth = 1;
    ctx.beginPath(); ctx.moveTo(x, y - 4.5); ctx.lineTo(x, y + 4.5); ctx.stroke();
    ctx.fillStyle = 'red';
    ctx.beginPath(); ctx.arc(x, y, 2, 0, Math.PI * 2); ctx.fill();
  } else if (kind === 'mean') {
    ctx.fillStyle = 'rgba(110,110,110,0.9)';
    ctx.beginPath(); ctx.arc(x, y, 1.8, 0, Math.PI * 2); ctx.fill();
  } else if (kind === 'small') {
    ctx.fillStyle = 'purple';
    ctx.fillRect(x - 2.3, y - 2.3, 4.6, 4.6);
  } else if (kind === 'offset') {
    ctx.fillStyle = 'green';
    ctx.beginPath(); ctx.arc(x, y, 2.7, 0, Math.PI * 2); ctx.fill();
  } else if (kind === 'werr') {
    ctx.strokeStyle = 'rgba(255,0,0,0.5)'; ctx.lineWidth = 1;
    ctx.beginPath();
    ctx.moveTo(x, y - 4.5); ctx.lineTo(x, y + 4.5);
    ctx.moveTo(x - 2, y - 4.5); ctx.lineTo(x + 2, y - 4.5);
    ctx.moveTo(x - 2, y + 4.5); ctx.lineTo(x + 2, y + 4.5);
    ctx.stroke();
  }
  ctx.restore();
}

function decor(title, titleY, box, items, markerX, textX, zeroUnder) {
  function zeroLine(chart) {
    const { ctx, chartArea: a, scales } = chart;
    const y0 = scales.y.getPixelForValue(0);
    ctx.save();
    ctx.strokeStyle = 'rgba(0,0,0,0.85)'; ctx.lineWidth = 1.2;
    ctx.beginPath(); ctx.moveTo(a.left, y0); ctx.lineTo(a.right, y0); ctx.stroke();
    ctx.restore();
  }
  return {
    id: 'decor',
    beforeDatasetsDraw(chart) { if (zeroUnder) zeroLine(chart); },
    afterDatasetsDraw(chart) {
      if (!zeroUnder) zeroLine(chart);
      const { ctx, chartArea: a } = chart;
      ctx.save();
      ctx.strokeStyle = INK; ctx.lineWidth = 0.8;
      ctx.strokeRect(a.left, a.top, a.right - a.left, a.bottom - a.top);
      ctx.fillStyle = INK;
      ctx.font = '10px ' + FONT;
      ctx.textAlign = 'center'; ctx.textBaseline = 'middle';
      ctx.fillText(title, (a.left + a.right) / 2, titleY);
      // legend box
      ctx.beginPath();
      ctx.roundRect(box[0], box[1], box[2] - box[0], box[3] - box[1], 2.5);
      ctx.fillStyle = 'rgba(255,255,255,0.8)'; ctx.fill();
      ctx.strokeStyle = '#d4d4d4'; ctx.lineWidth = 0.8; ctx.stroke();
      ctx.font = '8.33px ' + FONT;
      ctx.textAlign = 'left';
      items.forEach(it => {
        drawMarker(ctx, it.kind, markerX, it.y);
        ctx.fillStyle = INK;
        ctx.fillText(it.text, textX, it.y);
      });
      ctx.restore();
    }
  };
}

const common = { responsive: false, animation: false, devicePixelRatio: 1, events: [] };

new Chart(document.getElementById('topChart'), {
  type: 'scatter',
  data: {
    datasets: [
      { label: LBL_COMBINED, data: meanPoints, pointRadius: 2.2, pointBorderWidth: 0,
        pointBackgroundColor: 'rgba(255,0,0,0.9)', order: 1 },
      { label: LBL_COMBINED + ' error', data: meanErrLine, showLine: true, borderColor: 'rgba(255,0,0,0.7)',
        borderWidth: 1, pointRadius: 0, order: 2 },
      { label: LBL_TOA, data: toaPoints, pointRadius: 1.1, pointBorderWidth: 0,
        pointBackgroundColor: 'rgba(15,15,110,0.75)', order: 3 },
      { label: LBL_TOA_ERR, data: toaErrLine, showLine: true, borderColor: 'rgba(20,20,255,0.27)',
        borderWidth: 1.5, pointRadius: 0, order: 4 }
    ]
  },
  options: {
    ...common,
    layout: { padding: { left: 0, top: 18, right: 11, bottom: 0 } },
    plugins: { legend: { display: false }, tooltip: { enabled: false } },
    scales: {
      x: xScale(false, 17.5, 2.2),
      y: yScale(topYRange, topYTicks, 'Mean postfit per pulsar (\u03bcs)', 10)
    }
  },
  plugins: [decor('Mean TOA residuals per pulsar over time for all pulsars', 9.3,
    [709, 22.5, 845, 61],
    [{ kind: 'toa', text: LBL_TOA, y: 28.5 },
     { kind: 'toaErr', text: LBL_TOA_ERR, y: 40.8 },
     { kind: 'combined', text: LBL_COMBINED, y: 53.2 }], 721, 735, true)]
});

new Chart(document.getElementById('bottomChart'), {
  type: 'scatter',
  data: {
    datasets: [
      { label: LBL_SMALL, data: [], pointStyle: 'rect', pointBackgroundColor: 'purple', order: 1 },
      { label: LBL_OFFSET, data: offsetPoints, pointRadius: 2.4, pointBorderWidth: 1.3,
        pointBorderColor: 'rgba(0,128,0,0.95)', pointBackgroundColor: '#6e0c0c', order: 2 },
      { label: LBL_MEAN, data: meanPoints, pointRadius: 2, pointBorderWidth: 0,
        pointBackgroundColor: 'rgba(115,115,115,0.85)', order: 3 },
      { label: LBL_WERR, data: meanErrLine, showLine: true, borderColor: 'rgba(255,0,0,0.45)',
        borderWidth: 1, pointRadius: 0, order: 4 },
      { label: LBL_WERR + ' caps', data: meanCaps, pointStyle: 'line', pointRadius: 2,
        pointBorderWidth: 1, pointBorderColor: 'rgba(255,0,0,0.45)', order: 4 }
    ]
  },
  options: {
    ...common,
    layout: { padding: { left: 0, top: 15, right: 11, bottom: 0 } },
    plugins: { legend: { display: false }, tooltip: { enabled: false } },
    scales: {
      x: xScale(true, 28, 1.7),
      y: yScale(bottomYRange, bottomYTicks, 'Overall Postfit mean (\u03bcs)', 15)
    }
  },
  plugins: [decor('Overall Weighted Mean TOA residuals over time (Points with more than 10 pulsars)', 7,
    [601, 19.8, 845, 71],
    [{ kind: 'mean', text: LBL_MEAN, y: 26 },
     { kind: 'small', text: LBL_SMALL, y: 38.7 },
     { kind: 'offset', text: LBL_OFFSET, y: 51 },
     { kind: 'werr', text: LBL_WERR, y: 63 }], 611.7, 626.7, false)]
});
</script>
</body>
</html>
